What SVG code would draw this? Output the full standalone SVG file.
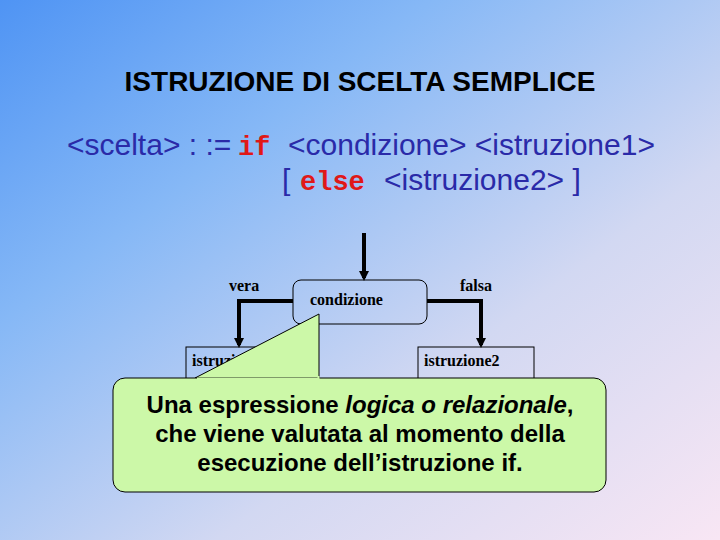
<svg xmlns="http://www.w3.org/2000/svg" width="720" height="540" viewBox="0 0 720 540">
<defs>
<linearGradient id="bg" x1="0" y1="0" x2="1" y2="1">
<stop offset="0" stop-color="#4f94f4"/>
<stop offset="0.3" stop-color="#86b8f6"/>
<stop offset="0.65" stop-color="#d2d8f2"/>
<stop offset="1" stop-color="#f8e6f4"/>
</linearGradient>
<marker id="ah" markerWidth="10" markerHeight="10" refX="7" refY="5" orient="auto" markerUnits="userSpaceOnUse" viewBox="0 0 10 10">
<path d="M0,0 L10,5 L0,10 Z" fill="#000"/>
</marker>
<style>
.t{font-family:"Liberation Sans",Arial,sans-serif}
.g{font-family:"Liberation Sans",Arial,sans-serif;font-size:30px;fill:#2a2aa8}
.kw{font-family:"Liberation Mono","Courier New",monospace;font-weight:bold;font-size:27px;fill:#e01818}
.s{font-family:"Liberation Serif","Times New Roman",serif;font-weight:bold;font-size:16px;fill:#000}
.box{fill:none;stroke:#000;stroke-width:1}
.ln{fill:none;stroke:#000;stroke-width:4}
.c{font-family:"Liberation Sans",Arial,sans-serif;font-weight:bold;font-size:24px;fill:#000;text-anchor:middle}
</style>
</defs>
<rect width="720" height="540" fill="url(#bg)"/>
<text class="t" x="360" y="91" font-size="28" font-weight="bold" text-anchor="middle">ISTRUZIONE DI SCELTA SEMPLICE</text>
<text class="g" x="67" y="155">&lt;scelta&gt; : := <tspan class="kw" x="238">if</tspan><tspan x="288">&lt;condizione&gt; &lt;istruzione1&gt;</tspan></text>
<text class="g" x="282" y="190">[ <tspan class="kw" x="300">else</tspan><tspan x="384">&lt;istruzione2&gt; ]</tspan></text>
<g id="connectors">
<line class="ln" x1="364" y1="233" x2="364" y2="278" marker-end="url(#ah)"/>
<polyline class="ln" points="293,301 239,301 239,345" marker-end="url(#ah)"/>
<polyline class="ln" points="427,301 481,301 481,345" marker-end="url(#ah)"/>
</g>
<g id="condizione">
<rect x="293" y="280" width="134" height="44" rx="8" fill="none" stroke="#000" stroke-width="1"/>
<text class="s" x="310" y="305">condizione</text>
</g>
<text class="s" x="229" y="291">vera</text>
<text class="s" x="460" y="291">falsa</text>
<g id="istruzione1">
<rect class="box" x="186" y="347" width="116" height="50"/>
<text class="s" x="192" y="366">istruzione1</text>
</g>
<g id="istruzione2">
<rect class="box" x="418" y="347" width="116" height="50"/>
<text class="s" x="424" y="366">istruzione2</text>
</g>
<g id="callout">
<path d="M319,314 L319,378 L195,378 Z" fill="#ccf8a8" stroke="#000" stroke-width="1"/>
<rect x="113" y="378" width="493" height="114" rx="12" fill="#ccf8a8" stroke="#000" stroke-width="1"/>
<path d="M197,378.5 L318.5,378.5 L318.5,376" fill="none" stroke="#ccf8a8" stroke-width="2"/>
<text class="c" x="360" y="413">Una espressione <tspan font-style="italic">logica o relazionale</tspan>,</text>
<text class="c" x="360" y="442">che viene valutata al momento della</text>
<text class="c" x="360" y="471">esecuzione dell’istruzione if.</text>
</g>
</svg>
